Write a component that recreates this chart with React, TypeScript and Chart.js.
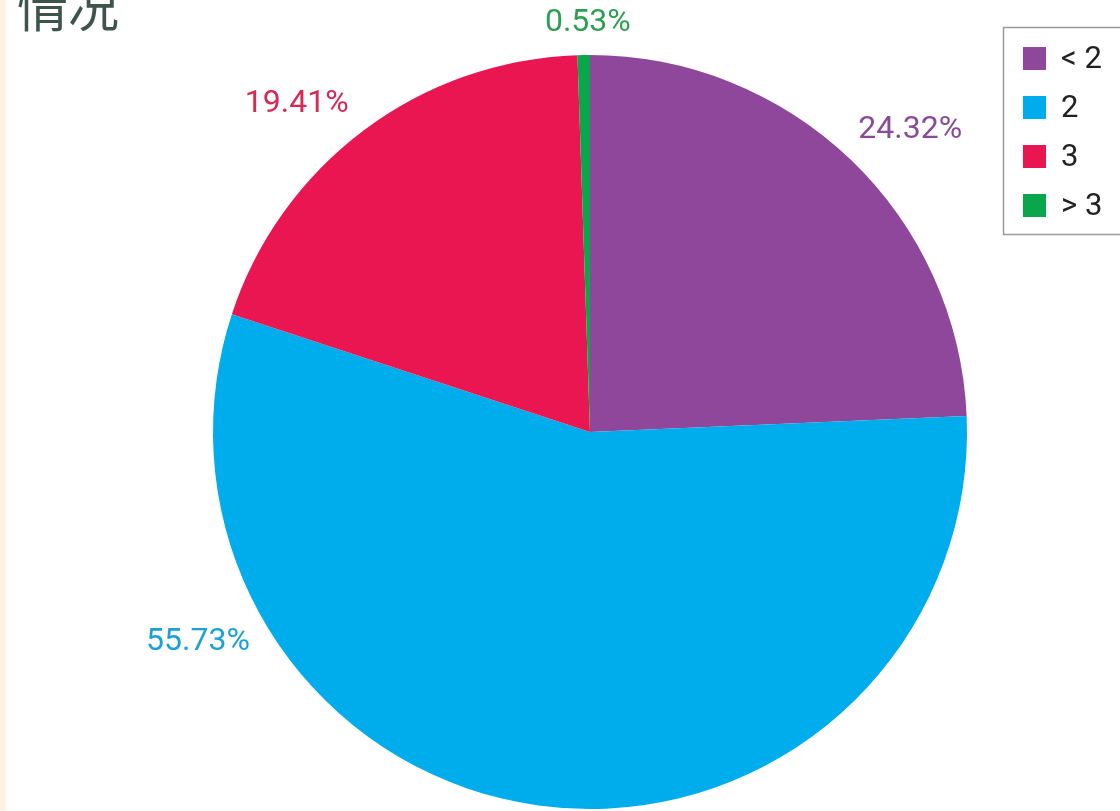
import React, { useEffect, useRef } from "react";
import { Chart, registerables } from "chart.js";

Chart.register(...registerables);

const categories = ["< 2", "2", "3", "> 3"];
const shares = [24.32, 55.73, 19.41, 0.53];
const sliceColors = ["#8e479b", "#00adec", "#ea1651", "#0aa64b"];
const labelColors = ["#8b4a98", "#1ba0d8", "#d42a55", "#2e9e52"];
// label placement: angle clockwise from 12 o'clock (deg) and distance as a factor of the radius
const labelAngles = [46.7, 241.8, 318.2, 359.7];
const labelDist = [1.167, 1.18, 1.167, 1.085];
const titleText = "情况";

const labelPlugin = {
  id: "pieLabels",
  afterDatasetsDraw(chart: any) {
    const meta = chart.getDatasetMeta(0);
    const ctx = chart.ctx;
    ctx.save();
    ctx.font = "32px Roboto, 'Noto Sans', sans-serif";
    ctx.textAlign = "center";
    ctx.textBaseline = "middle";
    meta.data.forEach((arc: any, i: number) => {
      const a = (labelAngles[i] * Math.PI) / 180;
      const d = arc.outerRadius * labelDist[i];
      const x = arc.x + Math.sin(a) * d;
      const y = arc.y - Math.cos(a) * d;
      ctx.fillStyle = labelColors[i];
      ctx.fillText(shares[i].toFixed(2) + "%", x, y);
    });
    ctx.restore();
  },
};

const legendPlugin = {
  id: "boxLegend",
  afterDraw(chart: any) {
    const ctx = chart.ctx;
    const labels = chart.data.labels as string[];
    const colors = chart.data.datasets[0].backgroundColor as string[];
    ctx.save();
    ctx.strokeStyle = "#9a9a9a";
    ctx.lineWidth = 1.5;
    ctx.strokeRect(1003.5, 27.5, 130, 207);
    ctx.font = "31px Roboto, 'Noto Sans', sans-serif";
    ctx.textBaseline = "middle";
    ctx.textAlign = "left";
    labels.forEach((lab, i) => {
      const cy = 58 + i * 49;
      ctx.fillStyle = colors[i];
      ctx.fillRect(1023, cy - 11, 23, 23);
      ctx.fillStyle = "#222222";
      ctx.fillText(lab, 1061, cy + 2);
    });
    ctx.restore();
  },
};

const titlePlugin = {
  id: "cutTitle",
  afterDraw(chart: any) {
    const ctx = chart.ctx;
    ctx.save();
    ctx.font = "51px 'Noto Sans CJK SC', sans-serif";
    ctx.fillStyle = "#3d544b";
    ctx.textAlign = "left";
    ctx.textBaseline = "alphabetic";
    ctx.fillText(titleText, 17, 27);
    ctx.restore();
  },
};

export default function App() {
  const ref = useRef<HTMLCanvasElement | null>(null);
  useEffect(() => {
    if (!ref.current) return;
    const chart = new Chart(ref.current, {
      type: "pie",
      data: {
        labels: categories,
        datasets: [
          {
            data: shares,
            backgroundColor: sliceColors,
            borderWidth: 0,
          },
        ],
      },
      options: {
        responsive: false,
        animation: false,
        radius: 377,
        layout: { padding: { left: 60, top: 53, right: 0, bottom: 0 } },
        plugins: {
          legend: { display: false },
          tooltip: { enabled: false },
          title: { display: false },
        },
      } as any,
      plugins: [labelPlugin, legendPlugin, titlePlugin],
    });
    return () => chart.destroy();
  }, []);
  return (
    <div
      style={{
        position: "fixed",
        left: 0,
        top: 0,
        width: 1120,
        height: 811,
        background: "#ffffff",
        overflow: "hidden",
      }}
    >
      <div
        style={{
          position: "absolute",
          left: 0,
          top: 0,
          width: 6,
          height: 811,
          background: "#fdf3e4",
        }}
      />
      <canvas
        ref={ref}
        width={1120}
        height={811}
        style={{ position: "absolute", left: 0, top: 0 }}
      />
    </div>
  );
}
